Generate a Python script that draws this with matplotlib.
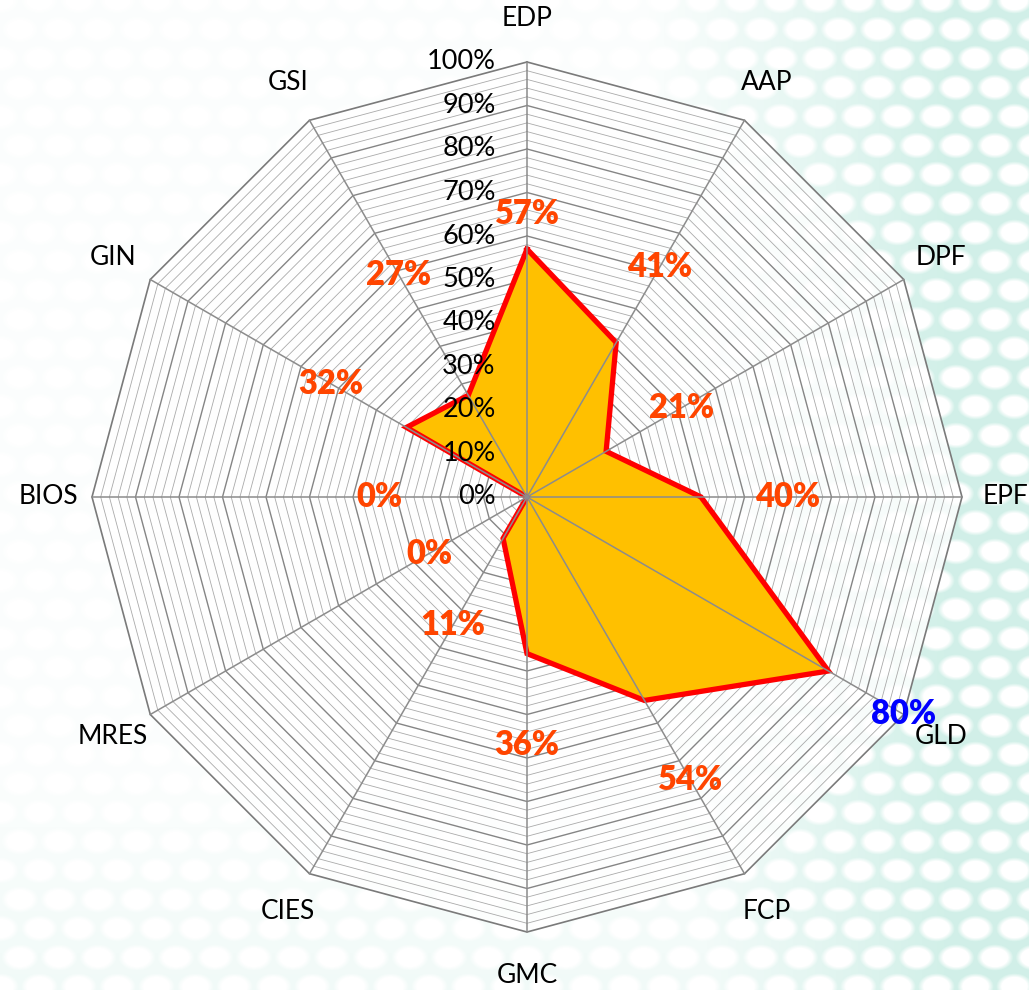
import numpy as np
import matplotlib
matplotlib.use('Agg')
import matplotlib.pyplot as plt

# Data
categories = ['EDP', 'AAP', 'DPF', 'EPF', 'GLD', 'FCP', 'GMC', 'CIES', 'MRES', 'BIOS', 'GIN', 'GSI']
values = [57, 41, 21, 40, 80, 54, 36, 11, 0, 0, 32, 27]
label_colors = ['#FF4500'] * 4 + ['#0000FF'] + ['#FF4500'] * 7
ring_ticks = list(range(0, 101, 10))

# where the percentage labels sit (in % of the radius)
label_radius = [65, 61, 41, 60, 100, 75, 57, 34, 26, 34, 52, 59]

plt.rcParams['font.family'] = ['Lato', 'DejaVu Sans']

W, H = 1029, 990
cx, cy, R = 527, 497, 435

fig = plt.figure(figsize=(W / 100, H / 100), dpi=100)

# decorative dotted background, mostly on the right
bg = fig.add_axes([0, 0, 1, 1])
bg.axis('off')
yy, xx = np.mgrid[0:H, 0:W].astype(float)
row = np.round(yy / 29.0)
off = (row % 2) * 19.5
col = np.round((xx - off) / 39.0)
dx = xx - (col * 39.0 + off)
dy = yy - row * 29.0
d = np.sqrt((dx / 16.0) ** 2 + (dy / 11.5) ** 2)
t = np.clip((d - 0.8) / 0.35, 0, 1)
strength = np.maximum(np.clip((xx - 620) / 330, 0, 1), 0.3 * np.clip((yy - 700) / 290, 0, 1))
strength = np.maximum(strength, 0.08)
teal = np.array([0.82, 0.94, 0.91])
img = 1 - (strength * t)[..., None] * (1 - teal)[None, None, :]
bg.imshow(img, extent=[0, W, H, 0], aspect='auto')
bg.set_xlim(0, W)
bg.set_ylim(H, 0)

# radar chart in a cartesian axes, 1 unit = full radius
ax = fig.add_axes([0, 0, 1, 1])
ax.patch.set_alpha(0)
ax.axis('off')
ax.set_xlim(-cx / R, (W - cx) / R)
ax.set_ylim(-(H - cy) / R, cy / R)

n = len(categories)
angles = np.pi / 2 - 2 * np.pi * np.arange(n) / n
ca, sa = np.cos(angles), np.sin(angles)
ca_c, sa_c = np.append(ca, ca[0]), np.append(sa, sa[0])

# light veil over the plot area so the pattern shows only faintly
ax.fill(ca, sa, color='white', alpha=0.8, lw=0, zorder=0.5)

# polygon grid rings
for lvl in range(2, 101, 2):
    r = lvl / 100
    if lvl == 100:
        c, lw = '#7a7a7a', 1.2
    elif lvl % 10 == 0:
        c, lw = '#858585', 1.0
    else:
        c, lw = '#aaaaaa', 0.6
    ax.plot(r * ca_c, r * sa_c, color=c, lw=lw, zorder=1)

# data polygon
v = np.array(values) / 100
vx, vy = v * ca, v * sa
ax.fill(vx, vy, color='#FFC000', zorder=3)
ax.plot(np.append(vx, vx[0]), np.append(vy, vy[0]), color='#FF0000', lw=3.8,
        solid_joinstyle='miter', zorder=4)

# spokes
for i in range(n):
    ax.plot([0, ca[i]], [0, sa[i]], color='#8c8c8c', lw=1.1, zorder=5)

# radial tick labels
for tk in ring_ticks:
    ax.text(-0.072, tk / 100, f'{tk}%', ha='right', va='center', fontsize=19.5,
            color='black', zorder=6)

# category labels
for i, cat in enumerate(categories):
    ax.text(1.1 * ca[i], 1.1 * sa[i], cat, ha='center', va='center', fontsize=19,
            color='black', zorder=6)

# value labels
for i, val in enumerate(values):
    r = label_radius[i] / 100
    ax.text(r * ca[i], r * sa[i], f'{val}%', ha='center', va='center', fontsize=23.5,
            fontweight='heavy', color=label_colors[i], zorder=7)

fig.savefig('out.png', dpi=100)
